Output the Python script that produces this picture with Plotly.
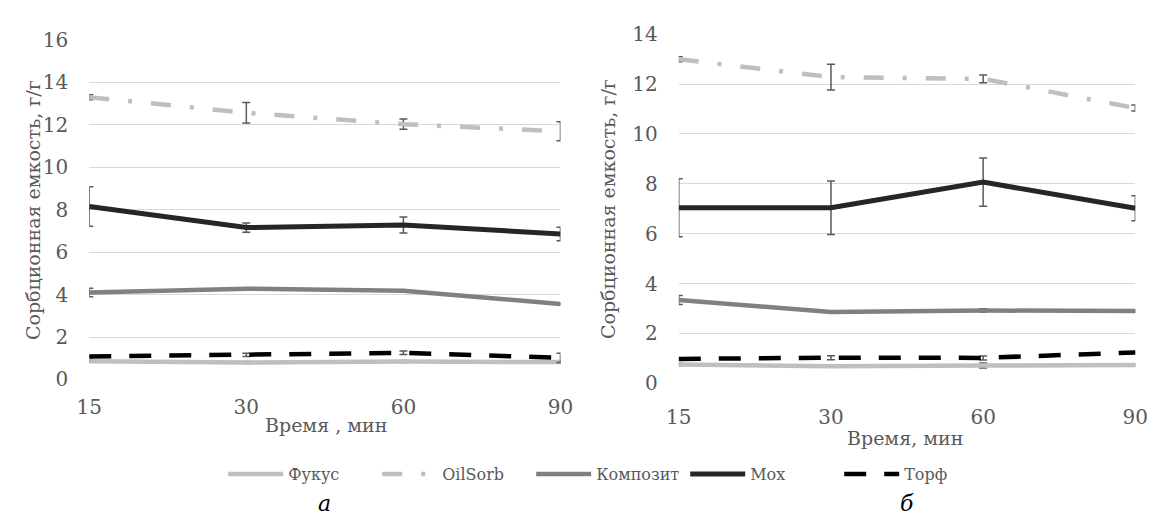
import plotly.graph_objects as go

times = ["15", "30", "60", "90"]
series = ["Фукус", "OilSorb", "Композит", "Мох", "Торф"]

# Panel a
a_fukus = [0.86, 0.80, 0.85, 0.82]
a_oilsorb = [13.3, 12.57, 12.03, 11.7]
a_kompozit = [4.1, 4.28, 4.18, 3.56]
a_mox = [8.15, 7.16, 7.28, 6.86]
a_torf = [1.08, 1.16, 1.26, 1.02]

a_fukus_err = [0.05, 0.05, 0.05, 0.05]
a_oilsorb_err = [0.12, 0.48, 0.24, 0.45]
a_kompozit_err = [0.2, 0.04, 0.05, 0.03]
a_mox_err = [0.93, 0.22, 0.38, 0.32]
a_torf_err = [0.05, 0.08, 0.08, 0.22]

# Panel b
b_fukus = [0.75, 0.68, 0.71, 0.73]
b_oilsorb = [13.0, 12.28, 12.21, 11.04]
b_kompozit = [3.34, 2.86, 2.92, 2.9]
b_mox = [7.04, 7.04, 8.07, 7.02]
b_torf = [0.98, 1.03, 1.02, 1.24]

b_fukus_err = [0.05, 0.04, 0.1, 0.04]
b_oilsorb_err = [0.1, 0.52, 0.16, 0.12]
b_kompozit_err = [0.18, 0.03, 0.07, 0.05]
b_mox_err = [1.16, 1.07, 0.97, 0.5]
b_torf_err = [0.04, 0.08, 0.08, 0.04]

colors = ["#BFBFBF", "#BFBFBF", "#808080", "#262626", "#000000"]
dashes = ["solid", "20px,19px,4px,19px", "solid", "solid", "22px,18px"]
widths = [4.5, 4.5, 4.5, 5, 4.5]

panels = [
    ([a_fukus, a_oilsorb, a_kompozit, a_mox, a_torf],
     [a_fukus_err, a_oilsorb_err, a_kompozit_err, a_mox_err, a_torf_err], "x", "y"),
    ([b_fukus, b_oilsorb, b_kompozit, b_mox, b_torf],
     [b_fukus_err, b_oilsorb_err, b_kompozit_err, b_mox_err, b_torf_err], "x2", "y2"),
]

FONT = "DejaVu Serif"
TXT = "#595959"
xs = list(range(len(times)))

fig = go.Figure()
for p, (vals, errs, xa, ya) in enumerate(panels):
    for i, name in enumerate(series):
        fig.add_trace(go.Scatter(
            x=xs, y=vals[i], name=name, mode="lines",
            xaxis=xa, yaxis=ya, showlegend=(p == 0),
            line=dict(color=colors[i], width=widths[i], dash=dashes[i]),
            error_y=dict(type="data", array=errs[i], visible=True,
                         color="#595959", thickness=1.5, width=4),
            cliponaxis=False,
        ))

W, H = 1163, 528
def fx(px): return px / W
def fy(py): return 1 - py / H

axis_common = dict(
    showgrid=True, gridcolor="#D9D9D9", gridwidth=1.3,
    zeroline=False, showline=False, ticks="",
    tickfont=dict(family=FONT, size=20, color=TXT),
)
xaxis_common = dict(
    range=[0, 3], tickvals=xs, ticktext=times,
    showgrid=False, zeroline=False, showline=False, ticks="",
    tickfont=dict(family=FONT, size=20, color=TXT),
)

def ann(text, x, y, size, color=TXT, angle=0):
    return dict(text=text, x=fx(x), y=fy(y), xref="paper", yref="paper",
                xanchor="center", yanchor="middle", textangle=angle,
                showarrow=False, font=dict(family=FONT, size=size, color=color))

fig.update_layout(
    width=W, height=H,
    margin=dict(l=0, r=0, t=0, b=0),
    paper_bgcolor="white", plot_bgcolor="white",
    font=dict(family=FONT, color=TXT),
    xaxis=dict(domain=[fx(78), fx(560)], anchor="y", ticklabelstandoff=13, **xaxis_common),
    yaxis=dict(domain=[fy(385), fy(29.3)], range=[0, 16], dtick=2, anchor="x",
               ticklabelstandoff=20, **axis_common),
    xaxis2=dict(domain=[fx(681), fx(1148)], anchor="y2", ticklabelstandoff=20, **xaxis_common),
    yaxis2=dict(domain=[fy(389), fy(23.3)], range=[0, 14], dtick=2, anchor="x2",
                ticklabelstandoff=20, **axis_common),
    legend=dict(orientation="h", x=fx(215), xanchor="left", y=fy(484), yanchor="middle",
                font=dict(family=FONT, size=16, color=TXT),
                itemwidth=55, entrywidth=84, entrywidthmode="pixels", tracegroupgap=0),
    annotations=[
        ann("Сорбционная емкость, г/г", 20, 208, 19, angle=-90),
        ann("Сорбционная емкость, г/г", 608, 206, 19, angle=-90),
        ann("Время , мин", 320, 433, 19),
        ann("Время, мин", 912, 446, 19),
        ann("<i>а</i>", 319, 515, 22, color="#000000"),
        ann("<i>б</i>", 914, 515, 22, color="#000000"),
    ],
)

fig.write_html("out.html", config={"displayModeBar": False},
               post_script="document.body.style.margin='0';document.body.style.overflow='hidden';")
